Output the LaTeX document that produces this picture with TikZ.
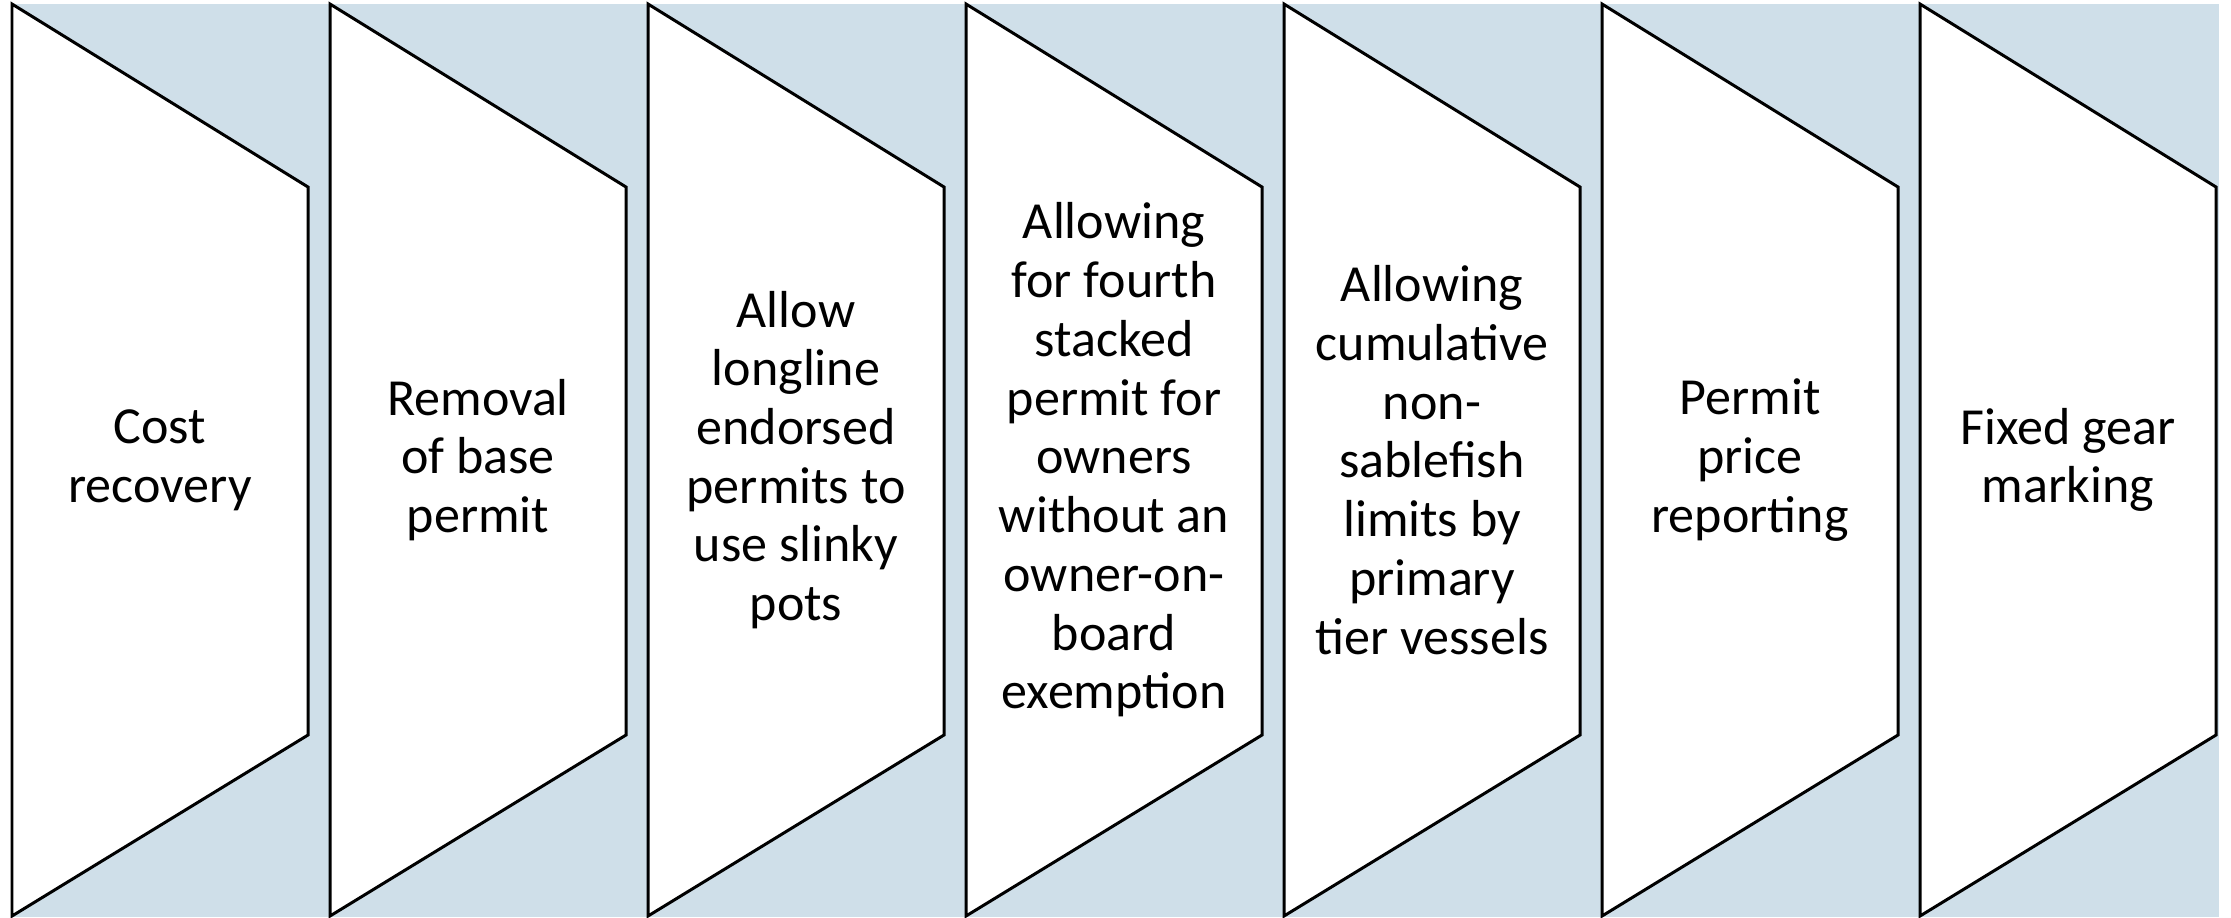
\documentclass[tikz,border=0pt]{standalone}
\usepackage{fontspec}
\setmainfont{Carlito}
\usepackage{xcolor}
\definecolor{paleblue}{RGB}{207,223,233}

\begin{document}
\begin{tikzpicture}[x=0.01cm,y=-0.01cm,
    panel/.style={draw=black,fill=white,line width=0.85pt,line join=miter},
    label/.style={align=center,font=\fontsize{14.8}{16.7}\selectfont}]
            \useasboundingbox (0,0) rectangle (2231,917);
            \fill[paleblue] (12,4) rectangle (2219,917);

            \draw[panel] (12,4) -- (308,187) -- (308,735) -- (12,916) -- cycle;
            \draw[panel] (330,4) -- (626,187) -- (626,735) -- (330,916) -- cycle;
            \draw[panel] (648,4) -- (944,187) -- (944,735) -- (648,916) -- cycle;
            \draw[panel] (966,4) -- (1262,187) -- (1262,735) -- (966,916) -- cycle;
            \draw[panel] (1284,4) -- (1580,187) -- (1580,735) -- (1284,916) -- cycle;
            \draw[panel] (1602,4) -- (1898,187) -- (1898,735) -- (1602,916) -- cycle;
            \draw[panel] (1920,4) -- (2216,187) -- (2216,735) -- (1920,916) -- cycle;

            \node[label] (cost) at (160,460) {Cost\\recovery};
            \node[label] (base) at (478,460) {Removal\\of base\\permit};
            \node[label] (slinky) at (796,460) {Allow\\longline\\endorsed\\permits to\\use slinky\\pots};
            \node[label] (fourth) at (1114,460) {Allowing\\for fourth\\stacked\\permit for\\owners\\without an\\owner-on-\\board\\exemption};
            \node[label] (cumul) at (1432,460) {Allowing\\cumulative\\non-\\sablefish\\limits by\\primary\\tier vessels};
            \node[label] (price) at (1750,460) {Permit\\price\\reporting};
            \node[label] (gear) at (2068,460) {Fixed gear\\marking};
        \end{tikzpicture}
\end{document}
